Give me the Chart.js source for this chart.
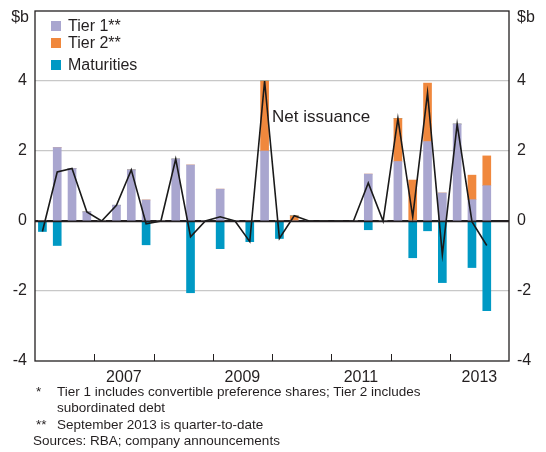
<!DOCTYPE html>
<html>
<head>
<meta charset="utf-8">
<script src="https://cdn.jsdelivr.net/npm/chart.js@4.4.0/dist/chart.umd.min.js"></script>
<style>
  body { margin: 0; background: #fff; }
  #wrap { position: relative; width: 546px; height: 452px; font-family: "Liberation Sans", Arial, sans-serif; color: #231f20; }
  #box { position: absolute; left: 0; top: 0; width: 546px; height: 390px; }
  .note { position: absolute; font-size: 13.5px; line-height: 16.4px; white-space: nowrap; }
</style>
</head>
<body>
<div id="wrap">
  <div id="box"><canvas id="chart"></canvas></div>
  <div class="note" style="left:36px;top:384px">*</div>
  <div class="note" style="left:57px;top:384px">Tier 1 includes convertible preference shares; Tier 2 includes<br>subordinated debt</div>
  <div class="note" style="left:36px;top:417px">**</div>
  <div class="note" style="left:57px;top:417px">September 2013 is quarter-to-date</div>
  <div class="note" style="left:33px;top:433px">Sources: RBA; company announcements</div>
</div>
<script>
// Quarterly data, Mar 2006 to Dec 2013 ($b)
const quarters = [
  'Mar-06', 'Jun-06', 'Sep-06', 'Dec-06', 'Mar-07', 'Jun-07', 'Sep-07', 'Dec-07',
  'Mar-08', 'Jun-08', 'Sep-08', 'Dec-08', 'Mar-09', 'Jun-09', 'Sep-09', 'Dec-09',
  'Mar-10', 'Jun-10', 'Sep-10', 'Dec-10', 'Mar-11', 'Jun-11', 'Sep-11', 'Dec-11',
  'Mar-12', 'Jun-12', 'Sep-12', 'Dec-12', 'Mar-13', 'Jun-13', 'Sep-13', 'Dec-13'
];
const tier1 = [0, 2.1, 1.5, 0.26, 0, 0.45, 1.46, 0.6, 0, 1.77, 1.6, 0, 0.91, 0, 0, 2.0,
  0, 0, 0, 0, 0, 0, 1.34, 0, 1.7, 0, 2.27, 0.8, 2.77, 0.61, 1.01, null];
const tier2 = [0, 0, 0, 0, 0, 0, 0, 0, 0, 0, 0, 0, 0, 0, 0, 2.0,
  0, 0.15, 0, 0, 0, 0, 0, 0, 1.23, 1.17, 1.67, 0, 0, 0.7, 0.85, null];
const maturities = [-0.3, -0.7, 0, 0, 0, 0, 0, -0.68, 0, 0, -2.05, 0, -0.79, 0, -0.59, 0,
  -0.5, 0, 0, 0, 0, 0, -0.25, 0, 0, -1.05, -0.28, -1.76, 0, -1.33, -2.56, null];
const netIssuance = [-0.3, 1.4, 1.5, 0.26, 0, 0.45, 1.46, -0.08, 0, 1.77, -0.45, 0, 0.12, 0, -0.59, 4.0,
  -0.5, 0.15, 0, 0, 0, 0, 1.09, 0, 2.93, 0.12, 3.66, -0.96, 2.77, -0.02, -0.7, null];

const yTicks = [-4, -2, 0, 2, 4];
const yearLabels = ['2007', '2009', '2011', '2013'];

const colTier1 = '#a9a6cf';
const colTier2 = '#f0883d';
const colMat = '#0099c4';
const ink = '#231f20';
const font = '"Liberation Sans", Arial, sans-serif';

// Frame, zero line, year tick marks, legend and labels
const decor = {
  id: 'decor',
  afterDatasetsDraw(chart) {
    const { ctx, chartArea: a, scales } = chart;
    ctx.save();
    const y0 = Math.round(scales.y.getPixelForValue(0)) + 0.5;
    ctx.strokeStyle = ink;
    ctx.lineWidth = 1.3;
    ctx.beginPath();
    ctx.moveTo(a.left, y0);
    ctx.lineTo(a.right, y0);
    ctx.stroke();

    // year boundaries
    ctx.lineWidth = 1;
    for (let v = 4; v < 32; v += 4) {
      const x = Math.round(scales.x2.getPixelForValue(v)) + 0.5;
      ctx.beginPath();
      ctx.moveTo(x, a.bottom);
      ctx.lineTo(x, a.bottom - 7);
      ctx.stroke();
    }

    ctx.lineWidth = 1.3;
    ctx.strokeRect(a.left, a.top, a.right - a.left, a.bottom - a.top);
    ctx.restore();
  },
  afterDraw(chart) {
    const { ctx, chartArea: a } = chart;
    ctx.save();
    ctx.fillStyle = ink;
    ctx.textBaseline = 'middle';
    ctx.font = '16px ' + font;
    ctx.textAlign = 'right';
    ctx.fillText('$b', a.left - 6, 18);
    ctx.textAlign = 'left';
    ctx.fillText('$b', a.right + 8, 18);

    // legend
    const items = [[colTier1, 'Tier 1**', 26], [colTier2, 'Tier 2**', 43], [colMat, 'Maturities', 65]];
    items.forEach(([c, t, y]) => {
      ctx.fillStyle = c;
      ctx.fillRect(51, y - 5, 10, 10);
      ctx.fillStyle = ink;
      ctx.fillText(t, 68, y + 1);
    });

    ctx.font = '17px ' + font;
    ctx.fillText('Net issuance', 272, 117);
    ctx.restore();
  }
};

const fitY = w => s => { s.width = w; s.paddingTop = 0; s.paddingBottom = 0; };

new Chart(document.getElementById('chart'), {
  data: {
    labels: quarters,
    datasets: [
      { type: 'line', label: 'Net issuance', data: netIssuance, yAxisID: 'yn', order: 0,
        borderColor: '#1a1a1a', borderWidth: 1.6, pointRadius: 0, tension: 0, fill: false },
      { type: 'bar', label: 'Tier 1**', data: tier1, backgroundColor: colTier1, order: 1, barThickness: 8 },
      { type: 'bar', label: 'Tier 2**', data: tier2, backgroundColor: colTier2, order: 1, barThickness: 8 },
      { type: 'bar', label: 'Maturities', data: maturities, backgroundColor: colMat, order: 1, barThickness: 8 }
    ]
  },
  options: {
    responsive: true,
    maintainAspectRatio: false,
    animation: false,
    layout: { padding: { top: 11, left: 0, right: 0, bottom: 0 } },
    plugins: { legend: { display: false }, tooltip: { enabled: false } },
    scales: {
      x: { display: false, stacked: true, offset: true },
      x2: {
        type: 'linear', position: 'bottom', min: 0, max: 32,
        grid: { display: false },
        border: { display: false },
        afterFit: s => { s.height = 29; s.paddingLeft = 0; s.paddingRight = 0; },
        ticks: {
          stepSize: 2, autoSkip: false, maxRotation: 0, padding: -1,
          color: ink, font: { size: 16, family: font },
          callback: v => (v % 8 === 6 ? yearLabels[(v - 6) / 8] : null)
        }
      },
      y: {
        stacked: true, position: 'left', min: -4, max: 6,
        afterFit: fitY(35),
        border: { display: false },
        grid: {
          drawTicks: false,
          color: c => (c.tick.value === 0 ? ink : (c.tick.value === -4 || c.tick.value === 6 ? 'rgba(0,0,0,0)' : '#c8c8c8')),
          lineWidth: 1.3
        },
        ticks: {
          stepSize: 2, padding: 8, color: ink, font: { size: 16, family: font },
          callback: v => (yTicks.includes(v) ? String(v) : null)
        }
      },
      y2: {
        position: 'right', min: -4, max: 6,
        afterFit: fitY(37),
        border: { display: false },
        grid: { display: false, drawTicks: false },
        ticks: {
          stepSize: 2, padding: 8, color: ink, font: { size: 16, family: font },
          callback: v => (yTicks.includes(v) ? String(v) : null)
        }
      },
      yn: { display: false, min: -4, max: 6 }
    }
  },
  plugins: [decor]
});
</script>
</body>
</html>
